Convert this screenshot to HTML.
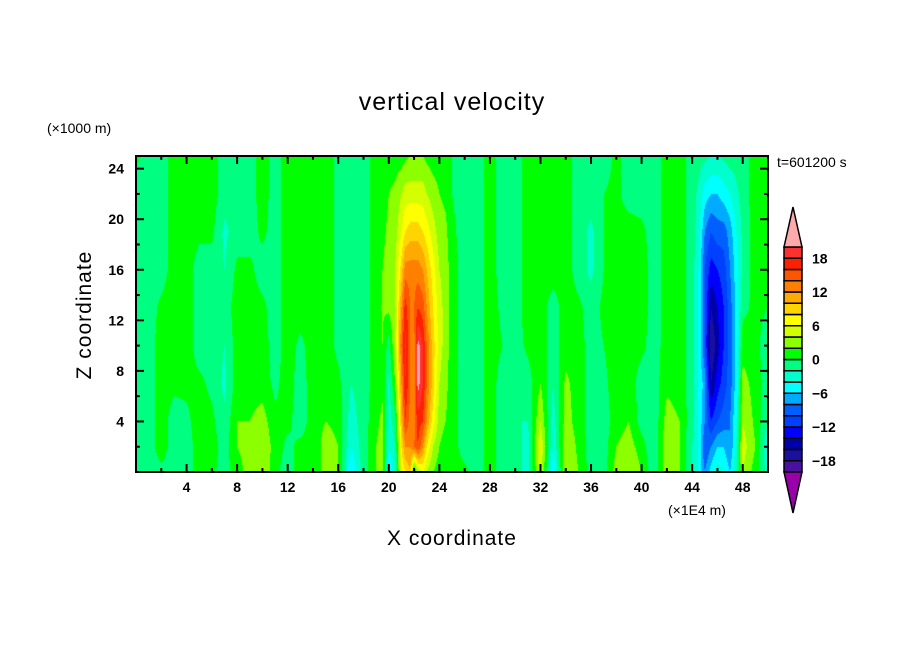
<!DOCTYPE html>
<html><head><meta charset="utf-8"><style>
body{margin:0;background:#fff;width:904px;height:654px;overflow:hidden;position:relative;font-family:"Liberation Sans",sans-serif}
.t{position:absolute;color:#000;white-space:nowrap}
</style></head><body>
<div class="t" style="left:0;width:904px;text-align:center;top:88px;font-size:25px;letter-spacing:1px;padding-left:0">vertical velocity</div>
<div class="t" style="left:47px;top:120px;font-size:14px">(×1000 m)</div>
<div class="t" style="left:777px;top:154px;font-size:14px">t=601200 s</div>
<div class="t" style="left:668px;top:502px;font-size:14px">(×1E4 m)</div>
<div class="t" style="left:0;width:904px;text-align:center;top:527px;font-size:21px;letter-spacing:1px">X coordinate</div>
<div class="t" style="left:85px;top:315px;font-size:21px;letter-spacing:1px;transform:translate(-50%,-50%) rotate(-90deg)">Z coordinate</div>
<canvas id="cv" width="632" height="316" style="position:absolute;left:136px;top:156px"></canvas>
<svg id="ov" width="904" height="654" style="position:absolute;left:0;top:0"></svg>
<script>
const xNodes=[0,1,2,3,4,5,6,7,8,9,10,11,12,13,14,15,16,17,18,19,19.5,20,20.5,21,21.3,21.7,22,22.3,22.7,23,23.5,24,24.5,25,26,27,28,29,30,31,32,33,34,35,36,37,38,39,40,41,42,43,44,44.5,45,45.5,46,46.5,47,47.5,48,49,50];
const zNodes=[0,2,4,7,10,13,16,19,22,25];
const w=[
[-1,-1,-1,-1,-1,-1,-1,-1,-1,0.5],
[-1,-1,-1,-1,-1,-1,-1,-1,-1,-1],
[-0.5,1,1,1,1,0.5,-1,-1,-1,-1],
[-1,-1,-1,0.5,1,1,1,1,1,1],
[-1,-1,-0.5,0.5,1,1,1,1,1,1],
[1,1,1,0.5,-1,-1,-1,0.5,1,1],
[0.5,1,0.5,-0.5,-1,-1,-1,0.5,1,1],
[-1,-1,-1.5,-2.5,-2,-1,-2,-2.5,-1,-1],
[1,2,2,1,1,1,0.5,-1,-1,-1],
[3,3,2,1,1,1,0.5,-1,-1,-1],
[4,4,3,1,1,0.5,-1,0.5,1,1],
[0.5,1,0.5,-0.5,-1,-1,-1,-1,-1,-1],
[-1,-0.5,0.5,1,1,1,1,1,1,1],
[1,0.5,-1,-1,-0.5,1,1,1,1,1],
[0.5,0.5,1,1,1,1,1,0.5,0,0],
[3,3,2,1,1,1,1,1,1,1],
[2,2,1.5,0.5,-0.5,-0.5,-0.5,-0.5,-0.5,-0.5],
[-6,-4,-3,-2,-1,-1,-1,-1,-1,-1],
[-1,-1,-1,-1,-1,-1,-1,-1,-1,-1],
[2,2,1.5,1,1,1,1,1,1,1],
[3,3,2.5,1.5,2,2.2,2,1.5,1,1],
[-6,-4,-3,-2.5,-1,2.5,3,2.5,2,1],
[-3,-2,-1,2,4,4,4,3,2.5,1],
[6,8,10,12,14,12,9,6,4,1],
[8,12,16,18,19,17,13,8,5,1.5],
[10,12,13,14,14,14,13,9,5,2],
[-2,14,13,13,13,14,13,9,5,2],
[4,16,17,21,21,16,13,9,5,2],
[6,12,16,18,18,15,12,8,5,2],
[4,8,12,14,14,12,10,7,4,1.5],
[2,4,7,9,9,8,7,5,3,1],
[1,2,3,4,5,5,4,3,2,1],
[1,1,2,2.5,3,3,3,2.5,1.5,1],
[1,1,1,1,1,1,1,0.5,0,0],
[0.5,-1,-1,-1,-1,-1,-1,-1,-1,-1],
[-1,-1,-1,-1,-1,-1,-1,-1,-1,-1],
[1,1,1,1,1,1,1,1,1,1],
[-1,-1,-1,-1,0,-0.5,-1,-1,-1,-1],
[-1,-1,-2,-2,-1,-1,-1,-1,-1,-1],
[-3,-3,-2,-1,0.5,1,1,1,1,1],
[5,6,4,2,1,1,1,1,1,1],
[-6,-4,-3,-2,-1,-1,1,1,1,1],
[4,4,3,2.5,1,1,1,1,1,1],
[2,1.5,1,1,1,0.5,-1,-1,-1,-1],
[-1,-1,-1,-1,-1,-1,-2.5,-2.5,-1,-1],
[-1,-1,-1,-0.5,0,0.5,0,0,0,-1],
[3,2,1,1,1,1,1,1,0.5,0.5],
[4,3,2,1,1,1,1,1,-1,-1],
[2,1,-1,-1,0.5,1,1,0.5,-1,-1],
[-2,-2,-1.5,-1,-1,-1,-1,-1,-1,-1],
[4,4,3,1.5,1,1,1,1,1,1],
[2,2,2,1,1,1,1,1,1,1],
[-2,-2,-1.5,-1,-1,-1,-1,-1,-1,-1],
[-4,-4,-4,-4,-4,-4,-4,-3,-2.5,-1],
[-8,-10,-8,-7,-10,-10,-10,-8,-5,-1.5],
[-5,-8,-12,-16,-18,-16,-13,-10,-6,-2],
[-3,-6,-10,-13,-15,-14,-12,-9,-6,-2],
[-4,-6,-9,-11,-12,-12,-11,-9,-5,-1.5],
[-6,-8,-8,-9,-9,-9,-8,-7,-4,-1],
[-2,-3,-4,-5,-5,-5,-5,-4,-2.5,-1],
[4,5,4,3,1,-0.5,-1.5,-1.5,-1,-1],
[1,2,1.5,1,0.5,0.5,1,1,1,1],
[-3,-4,-2,-1,-1,0,1,1,1,1]
];
const levels=[-20,-18,-16,-14,-12,-10,-8,-6,-4,-2,0,2,4,6,8,10,12,14,16,18,20];
const colors=['#9a00aa','#4a10a0','#1a10a0','#0000aa','#0000ff','#0040ff','#0060ff','#00aaff','#00ffff','#00ffcc','#00ff80','#00ff00','#8cff00','#d4ff00','#ffff00','#ffd500','#ffaa00','#ff7f00','#ff5500','#ff2000','#ff3030','#ffaaaa'];
const xTicks=[4,8,12,16,20,24,28,32,36,40,44,48];
const yTicks=[4,8,12,16,20,24];
const cbLabels=[18,12,6,0,-6,-12,-18];
const X0=136,X1=768,Y0=156,Y1=472,XMAX=50,ZMAX=25;
const sx=v=>X0+(X1-X0)*v/XMAX, sy=v=>Y1-(Y1-Y0)*v/ZMAX;
function interp(x,z){
 let i=0;while(i<xNodes.length-2&&xNodes[i+1]<x)i++;
 let j=0;while(j<zNodes.length-2&&zNodes[j+1]<z)j++;
 const tx=Math.min(1,Math.max(0,(x-xNodes[i])/(xNodes[i+1]-xNodes[i])));
 const tz=Math.min(1,Math.max(0,(z-zNodes[j])/(zNodes[j+1]-zNodes[j])));
 const a=w[i][j],b=w[i+1][j],c=w[i][j+1],d=w[i+1][j+1];
 return (a*(1-tx)+b*tx)*(1-tz)+(c*(1-tx)+d*tx)*tz;
}
const rgb=colors.map(h=>[parseInt(h.slice(1,3),16),parseInt(h.slice(3,5),16),parseInt(h.slice(5,7),16)]);
const cv=document.getElementById('cv'),ctx=cv.getContext('2d');
const W=cv.width,H=cv.height,img=ctx.createImageData(W,H);
for(let py=0;py<H;py++){const z=(H-py-0.5)/H*ZMAX;for(let px=0;px<W;px++){const x=(px+0.5)/W*XMAX;const v=interp(x,z);let k=0;while(k<levels.length&&v>=levels[k])k++;const c=rgb[k];const o=(py*W+px)*4;img.data[o]=c[0];img.data[o+1]=c[1];img.data[o+2]=c[2];img.data[o+3]=255;}}
ctx.putImageData(img,0,0);
const NS='http://www.w3.org/2000/svg',sv=document.getElementById('ov');
function mk(t,a,p){const e=document.createElementNS(NS,t);for(const k in a)e.setAttribute(k,a[k]);(p||sv).appendChild(e);return e;}
const frame=mk('rect',{x:X0,y:Y0,width:X1-X0,height:Y1-Y0,fill:'none',stroke:'#000','stroke-width':2});


for(let v=2;v<XMAX;v+=2){const L=v%4===0?8:4;const x=sx(v);
 mk('line',{x1:x,x2:x,y1:Y1,y2:Y1-L,stroke:'#000','stroke-width':2});
 mk('line',{x1:x,x2:x,y1:Y0,y2:Y0+L,stroke:'#000','stroke-width':2});}
for(let v=2;v<ZMAX;v+=2){const L=v%4===0?8:4;const y=sy(v);
 mk('line',{x1:X0,x2:X0+L,y1:y,y2:y,stroke:'#000','stroke-width':2});
 mk('line',{x1:X1,x2:X1-L,y1:y,y2:y,stroke:'#000','stroke-width':2});}
xTicks.forEach(v=>{const t=mk('text',{x:sx(v),y:Y1+20,'text-anchor':'middle','font-size':14,'font-weight':'bold','font-family':'Liberation Sans'});t.textContent=v;
 
 });
yTicks.forEach(v=>{const t=mk('text',{x:X0-12,y:sy(v)+5,'text-anchor':'end','font-size':14,'font-weight':'bold','font-family':'Liberation Sans'});t.textContent=v;
 
 });
const CB0=247,CB1=472,CX=784,CW=18,n=levels.length-1,bh=(CB1-CB0)/n;
for(let k=1;k<=n;k++){const y=CB1-k*bh;const r=mk('rect',{x:CX,y:y,width:CW,height:bh,fill:colors[k],stroke:'#000','stroke-width':1.5});
 
 }
const tu=mk('polygon',{points:`${CX},${CB0} ${CX+CW},${CB0} ${CX+CW/2},207`,fill:colors[colors.length-1],stroke:'#000','stroke-width':1.5});


const td=mk('polygon',{points:`${CX},${CB1} ${CX+CW},${CB1} ${CX+CW/2},513`,fill:colors[0],stroke:'#000','stroke-width':1.5});


cbLabels.forEach(v=>{const y=CB1-(v-levels[0])/2*bh;const t=mk('text',{x:812,y:y+5,'font-size':14,'font-weight':'bold','font-family':'Liberation Sans'});t.textContent=v<0?'\u2212'+(-v):v;
 
 });
</script>
</body></html>
